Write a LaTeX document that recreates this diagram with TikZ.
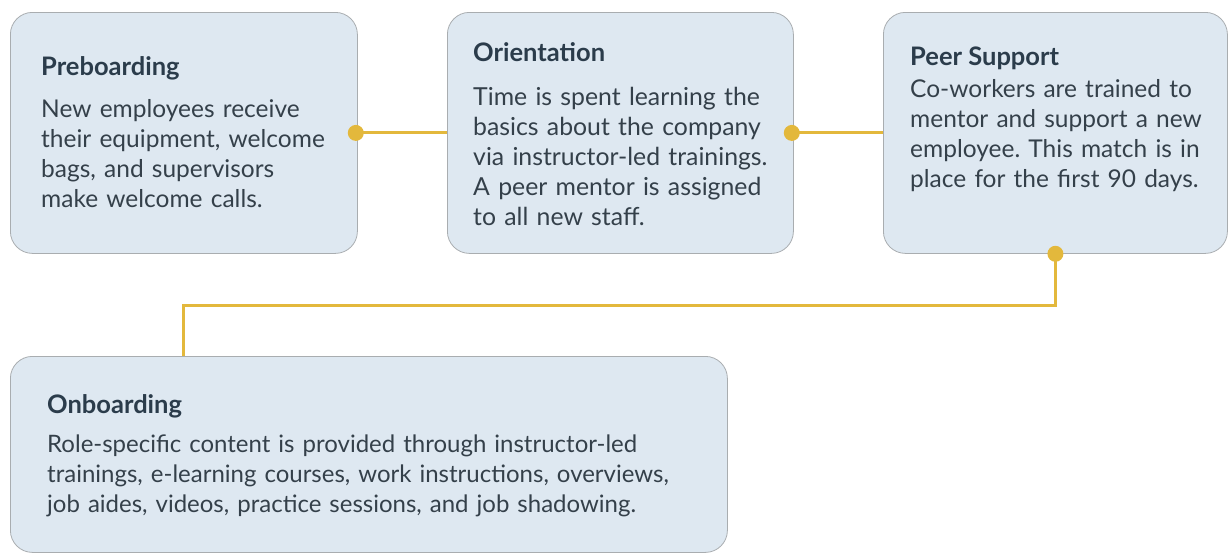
\documentclass[tikz,border=0pt]{standalone}
\usepackage{fontspec}
\setmainfont{Lato}
\usetikzlibrary{calc}
\frenchspacing
\definecolor{boxfill}{HTML}{DEE8F1}
\definecolor{boxline}{HTML}{A9ADB0}
\definecolor{titlec}{HTML}{2B3C4B}
\definecolor{bodyc}{HTML}{34404A}
\definecolor{gold}{HTML}{E3B83C}
\tikzset{
 card/.style={draw=boxline, line width=0.8pt, fill=boxfill, rounded corners=22pt, inner sep=0pt, anchor=north west},
 ttl/.style={anchor=base west, inner sep=0pt, font=\fontsize{25.5}{30}\selectfont\bfseries, text=titlec},
 body/.style={anchor=base west, inner sep=0pt, align=left, text width=340pt, font=\fontsize{24.5}{30}\selectfont, text=bodyc},
 link/.style={draw=gold, line width=3pt},
 dot/.style={circle, fill=gold, inner sep=0pt, minimum size=16pt},
}
\begin{document}
\begin{tikzpicture}[x=1pt,y=-1pt]
\useasboundingbox (0,0) rectangle (1228,554);
\node[card, minimum width=347pt, minimum height=241pt] (pre) at (10,12) {};
\node[card, minimum width=346pt, minimum height=241pt] (ori) at (447,12) {};
\node[card, minimum width=344pt, minimum height=241pt] (peer) at (883,12) {};
\node[card, minimum width=717pt, minimum height=196pt] (onb) at (10,356) {};

\node[ttl] (preT) at (41,75) {Preboarding};
\node[body] (preB) at (41,117) {New employees receive\\their equipment, welcome\\bags, and supervisors\\make welcome calls.};

\node[ttl] (oriT) at (473,61) {Orientation};
\node[body, font=\fontsize{24.8}{30}\selectfont] (oriB) at (473,105) {Time is spent learning the\\basics about the company\\via instructor-led trainings.\\A peer mentor is assigned\\to all new staff.};

\node[ttl] (peerT) at (910,65) {Peer Support};
\node[body] (peerB) at (910,97) {Co-workers are trained to\\mentor and support a new\\employee. This match is in\\place for the first 90 days.};

\node[ttl] (onbT) at (47,413) {Onboarding};
\node[body, text width=700pt, font=\fontsize{24}{30}\selectfont] (onbB) at (47,452) {Role-specific content is provided through instructor-led\\trainings, e-learning courses, work instructions, overviews,\\job aides, videos, practice sessions, and job shadowing.};

\coordinate (bend) at (183,305);
\draw[link] (pre.east) -- (ori.west);
\draw[link] (ori.east) -- (peer.west);
\draw[link] (peer.south) |- (bend) -- (bend |- onb.north);
\node[dot] (d1) at ([xshift=-2pt]pre.east) {};
\node[dot] (d2) at ([xshift=-2pt]ori.east) {};
\node[dot] (d3) at (peer.south) {};
\end{tikzpicture}
\end{document}
